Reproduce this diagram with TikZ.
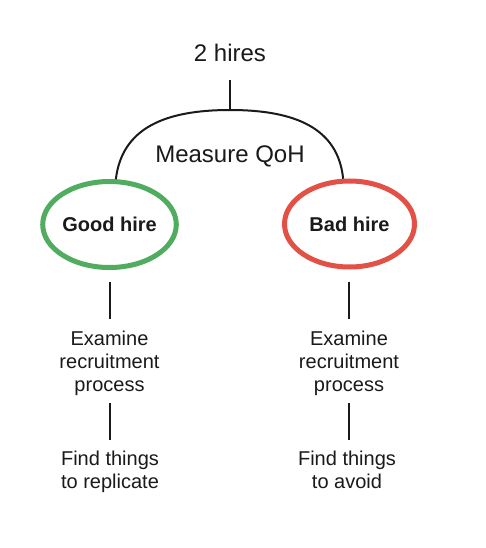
\documentclass[tikz,border=0pt]{standalone}
\usepackage{fontspec}
\setmainfont{Liberation Sans}
\usetikzlibrary{shapes.geometric,calc}
\definecolor{goodgreen}{RGB}{80,173,95}
\definecolor{badred}{RGB}{226,80,70}
\definecolor{ink}{RGB}{26,26,26}
\begin{document}
\begin{tikzpicture}[x=1pt,y=-1pt,
  conn/.style={line width=2pt, draw=ink},
  hire/.style={ellipse, minimum width=130pt, minimum height=86pt, line width=5pt, inner sep=0pt, text=ink, font=\fontsize{20}{24}\selectfont\bfseries},
  steptext/.style={align=center, inner sep=0pt, anchor=north, text=ink, font=\fontsize{20}{23}\selectfont},
  title/.style={inner sep=0pt, anchor=base, text=ink, font=\fontsize{24}{28}\selectfont}]
\useasboundingbox[fill=white] (0,0) rectangle (486,548);
\node[title] (hires) at (230,62) {2 hires};
\node[title] (qoh) at (230,162) {Measure QoH};
\coordinate (junction) at (230,110);
\node[hire, draw=goodgreen] (good) at (109.5,224.5) {Good hire};
\node[hire, draw=badred] (bad) at (349.5,224) {Bad hire};
\node[steptext] (examL) at (109.5,331) {Examine\\recruitment\\process};
\node[steptext] (examR) at (349,331) {Examine\\recruitment\\process};
\node[steptext] (findL) at (110,451) {Find things\\to replicate};
\node[steptext] (findR) at (347,451) {Find things\\to avoid};
\draw[conn, shorten <=18pt] (hires.south) -- (junction);
\draw[conn] (good.82) .. controls (122,128) and (165,110) .. (junction)
  .. controls (295,110) and (338,128) .. (bad.98);
\draw[conn, shorten <=12pt, shorten >=12pt] (good.south) -- (examL.north);
\draw[conn, shorten <=12pt, shorten >=12pt] (bad.south -| examR.north) -- (examR.north);
\draw[conn, shorten <=7pt, shorten >=11pt] (examL.south) -- (findL.north -| examL.south);
\draw[conn, shorten <=7pt, shorten >=11pt] (examR.south) -- (findR.north -| examR.south);
\end{tikzpicture}
\end{document}
